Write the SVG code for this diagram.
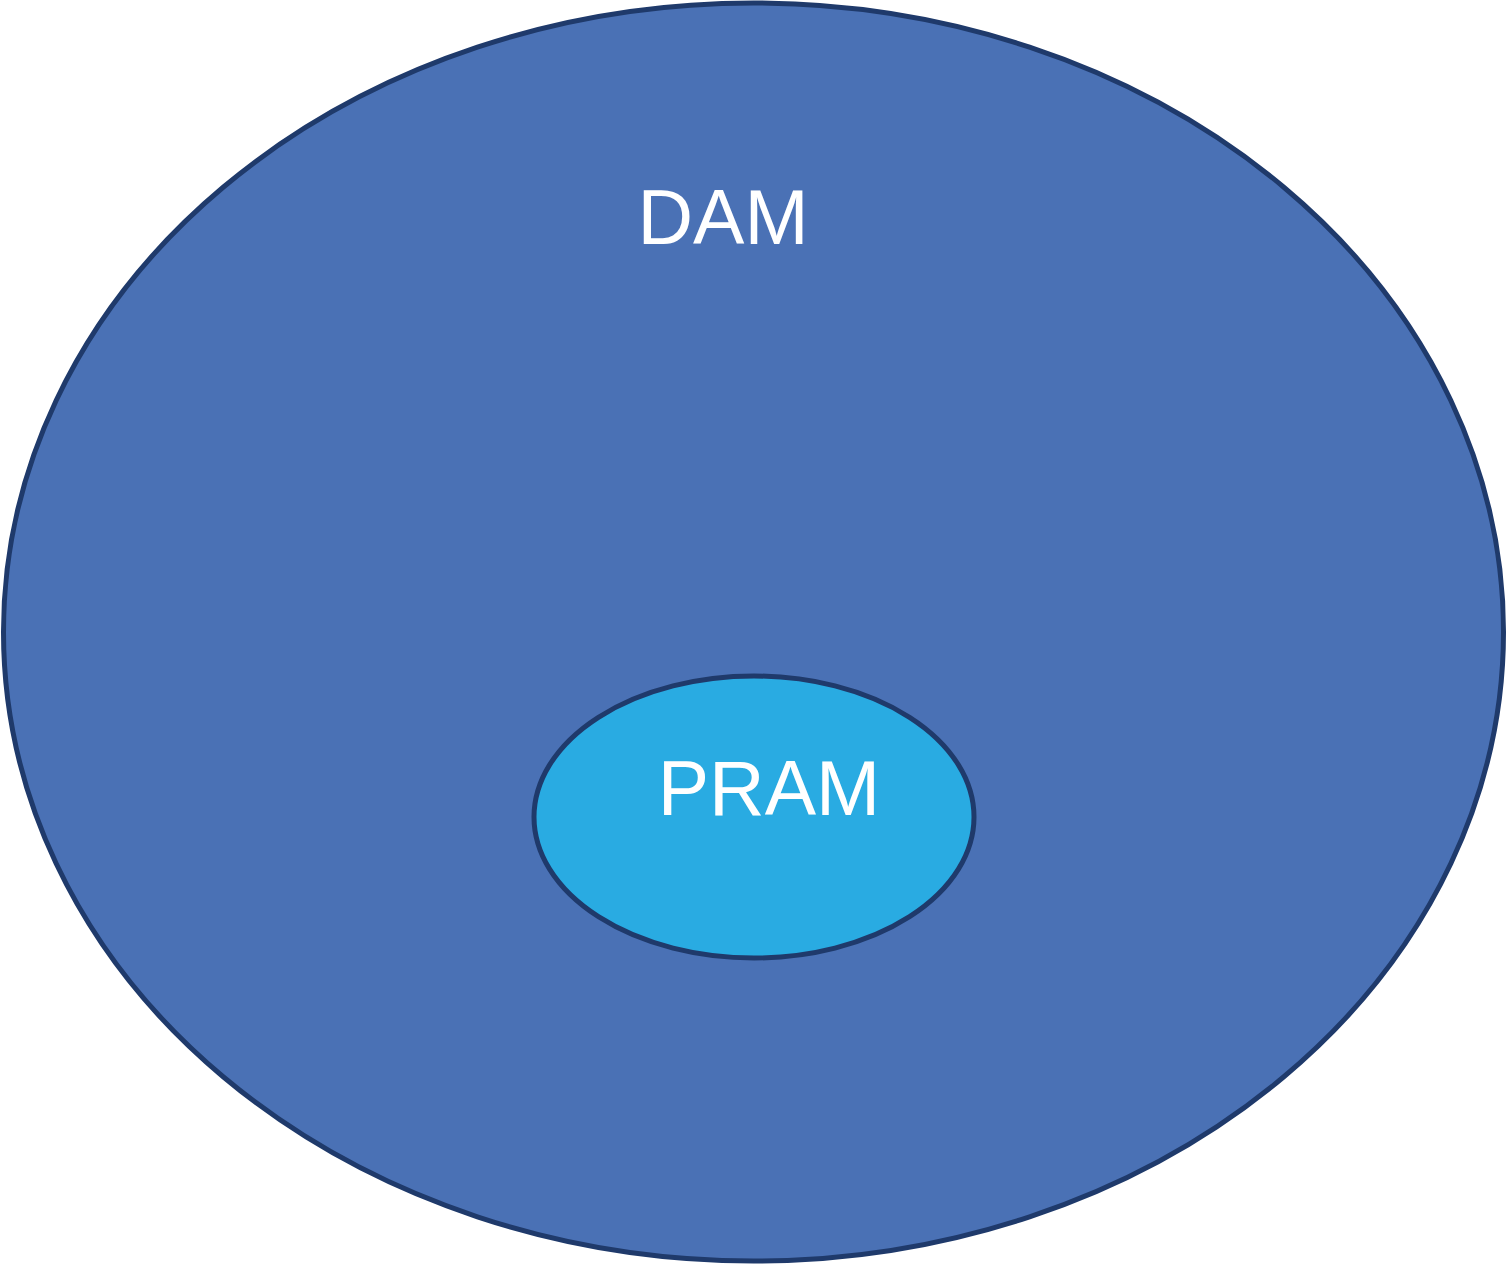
<svg xmlns="http://www.w3.org/2000/svg" width="1507" height="1265" viewBox="0 0 1507 1265">
<style>
.edge{stroke:#1F3A6B;stroke-width:5}
.lbl{font-family:"Liberation Sans",Arial,sans-serif;font-size:77px;fill:#FFFFFF;text-anchor:middle}
</style>
<rect width="1507" height="1265" fill="#FFFFFF"/>
<g id="dam">
<ellipse class="edge" cx="753.5" cy="632" rx="750" ry="629" fill="#4A71B5"/>
<text class="lbl" x="723" y="244">DAM</text>
</g>
<g id="pram">
<ellipse class="edge" cx="754" cy="817" rx="220" ry="141" fill="#29ABE2"/>
<text class="lbl" x="769" y="815">PRAM</text>
</g>
<g id="connectors"></g>
</svg>
